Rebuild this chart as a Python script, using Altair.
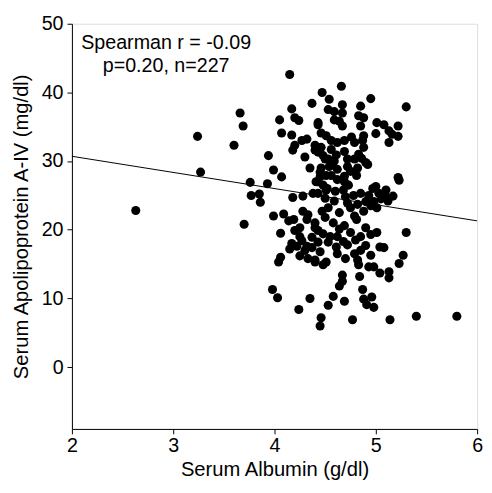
import altair as alt
import pandas as pd

albumin = [2.63, 3.24, 3.27, 3.60, 3.66, 3.69, 3.70, 3.76, 3.77, 3.85, 3.86, 3.93, 3.94, 3.99, 4.07,
           3.98, 4.03, 3.99, 4.06, 4.06, 4.04,
           4.15, 4.17, 4.37, 4.47, 4.05, 4.07, 4.20, 4.24, 4.17, 4.43, 4.20, 4.27, 4.32, 4.40, 4.46, 4.18, 4.40, 4.30,
           4.66, 4.54, 4.67, 4.95, 4.85, 5.30, 4.53, 4.59, 4.67, 4.83, 4.88, 4.59, 4.64, 4.67, 4.85, 5.01, 5.08, 5.22,
           4.43, 5.00, 5.13, 5.16, 5.22, 5.13, 4.46, 4.51, 4.56, 4.88, 4.69, 4.62, 4.79, 4.87, 4.88,
           4.43, 4.48, 4.56, 4.61, 4.69, 4.72, 4.83, 4.86, 4.90, 4.53, 4.59, 4.79,
           4.46, 4.54, 4.62, 4.72, 4.82, 4.92,
           4.45, 4.56, 4.62, 4.69, 4.81, 4.75, 5.22, 5.23, 4.43,
           4.51, 4.60, 4.68, 4.85, 4.97, 5.00, 5.03, 5.09, 5.17, 4.18, 4.28, 4.38, 4.48, 4.73, 4.93,
           4.90, 4.98, 5.01, 4.59, 4.72, 4.82, 4.53, 4.64, 4.75, 4.79, 4.88, 5.05, 4.95,
           4.09, 4.14, 4.19, 4.28, 4.33, 4.32, 4.69, 4.81, 4.90, 4.64, 4.75, 5.01, 5.30, 4.40, 4.50,
           4.20, 4.25, 4.40, 4.43, 4.48, 4.55, 4.62, 4.85, 4.95,
           4.17, 4.27, 4.37, 4.43, 4.22, 4.32, 4.37, 4.53, 4.61, 4.68, 4.72, 4.90, 4.85, 4.79, 4.80, 5.04, 5.08,
           4.45, 4.51, 4.40, 4.62, 4.33, 4.40, 4.48, 4.82, 4.83, 5.27, 5.23, 4.25, 4.15,
           4.93, 4.98, 5.04, 5.13, 5.13, 4.67, 4.67, 4.64, 4.84,
           4.87, 4.88, 4.96, 4.98, 4.91, 4.58, 4.53, 4.69, 4.46, 4.45, 4.77, 5.14, 5.40, 5.80, 4.35, 4.24,
           4.50, 4.56, 4.45, 4.51, 4.41, 4.69, 4.52, 4.43, 4.50, 4.35, 4.70, 4.78, 5.10, 5.12, 4.47, 4.58,
           4.25, 4.70, 4.30, 4.95, 4.76]

apoa4 = [22.8, 33.6, 28.4, 32.3, 37.0, 35.1, 20.8, 26.9, 25.0, 25.2, 24.0, 26.7, 30.8, 28.7, 27.7,
         11.3, 10.1, 22.0, 19.5, 16.0, 15.3,
         42.6, 37.6, 38.4, 40.0, 36.0, 34.1, 36.3, 35.9, 33.8, 35.3, 32.3, 33.0, 33.2, 32.3, 32.0, 31.6, 31.6, 30.6,
         40.9, 39.0, 38.2, 39.1, 38.0, 37.9, 37.5, 37.2, 37.0, 36.6, 36.3, 36.0, 35.8, 35.1, 35.1, 35.6, 35.3, 35.1,
         35.6, 34.0, 34.4, 33.9, 33.6, 32.7, 34.1, 33.7, 33.0, 33.7, 33.0, 32.7, 32.7, 33.0, 32.0,
         31.3, 30.8, 31.7, 30.9, 31.4, 30.3, 31.0, 30.4, 29.8, 30.3, 30.0, 30.3,
         29.0, 29.2, 28.8, 29.2, 29.0, 29.5,
         27.7, 27.9, 27.3, 27.8, 27.9, 28.5, 27.6, 27.2, 27.0,
         25.8, 25.6, 25.8, 25.3, 26.0, 26.3, 25.3, 25.1, 24.9, 24.7, 24.9, 25.3, 26.5, 26.5, 25.0,
         24.1, 24.1, 23.2, 24.2, 23.9, 23.7, 23.2, 22.5, 23.2, 22.0, 22.7, 24.5, 23.5,
         22.3, 21.3, 21.5, 22.7, 22.2, 21.5, 20.6, 21.5, 20.3, 20.1, 19.6, 19.6, 19.6, 21.0, 21.8,
         19.9, 20.3, 20.3, 19.9, 19.4, 19.0, 19.0, 19.0, 19.3,
         18.0, 18.4, 18.9, 18.2, 17.6, 17.6, 17.4, 18.2, 17.5, 18.3, 17.8, 17.7, 17.0, 16.5, 18.5, 17.5, 17.4,
         16.8, 15.3, 15.6, 16.5, 15.8, 15.3, 14.9, 15.6, 14.9, 16.3, 15.1, 16.2, 17.2,
         14.6, 14.6, 13.7, 13.9, 13.0, 13.4, 12.5, 11.8, 13.2,
         11.3, 9.9, 10.2, 8.7, 9.1, 10.3, 9.0, 9.6, 7.2, 6.0, 6.9, 6.9, 7.4, 7.4, 10.0, 8.4,
         30.3, 29.4, 28.4, 27.9, 27.0, 27.0, 26.0, 25.3, 24.6, 29.0, 24.8, 25.0, 25.8, 24.2, 22.7, 21.0,
         19.0, 15.8, 17.0, 16.3, 33.5]

fit_x = [2, 6]
fit_y = [30.7, 21.3]

note_lines = ["Spearman r = -0.09", "p=0.20, n=227"]
note_x = [2.93, 2.93]
note_y = [46.3, 43.0]

x_ticks = [2, 3, 4, 5, 6]
y_ticks = [0, 10, 20, 30, 40, 50]

FONT = "Liberation Sans"

pts = pd.DataFrame({"albumin": albumin, "apoa4": apoa4})
fit = pd.DataFrame({"albumin": fit_x, "apoa4": fit_y})
notes = pd.DataFrame({"text": note_lines, "albumin": note_x, "apoa4": note_y})

xs = alt.Scale(domain=[2, 6], nice=False, zero=False)
ys = alt.Scale(domain=[-9, 50], nice=False, zero=False)

x_axis = alt.Axis(values=x_ticks, format="d", title="Serum Albumin (g/dl)", grid=False, tickSize=5,
                  labelPadding=2, titlePadding=4, labelFontSize=20, titleFontSize=20.5,
                  labelFont=FONT, titleFont=FONT, titleFontWeight="normal",
                  labelColor="black", titleColor="black", domainColor="black", tickColor="black",
                  labelFlush=False)
y_axis = alt.Axis(values=y_ticks, format="d", title="Serum Apolipoprotein A-IV (mg/dl)", grid=False, tickSize=5,
                  labelPadding=4, titlePadding=10, labelFontSize=20, titleFontSize=20.5,
                  labelFont=FONT, titleFont=FONT, titleFontWeight="normal",
                  labelColor="black", titleColor="black", domainColor="black", tickColor="black",
                  labelFlush=False)

scatter = alt.Chart(pts).mark_circle(size=85, color="black", opacity=1).encode(
    x=alt.X("albumin:Q", scale=xs, axis=x_axis),
    y=alt.Y("apoa4:Q", scale=ys, axis=y_axis),
)

line = alt.Chart(fit).mark_line(color="black", strokeWidth=1).encode(
    x=alt.X("albumin:Q", scale=xs),
    y=alt.Y("apoa4:Q", scale=ys),
)

text = alt.Chart(notes).mark_text(font=FONT, fontSize=20, color="black", align="center",
                                  baseline="alphabetic").encode(
    x=alt.X("albumin:Q", scale=xs),
    y=alt.Y("apoa4:Q", scale=ys),
    text="text:N",
)

chart = alt.layer(line, scatter, text).properties(
    width=412, height=412,
    padding={"left": 65, "top": 12, "right": 7, "bottom": 53},
    autosize=alt.AutoSizeParams(type="none"),
).configure_view(stroke="black", strokeWidth=1).configure(background="white")

chart.save("out.html", embed_options={"renderer": "svg", "actions": False})
